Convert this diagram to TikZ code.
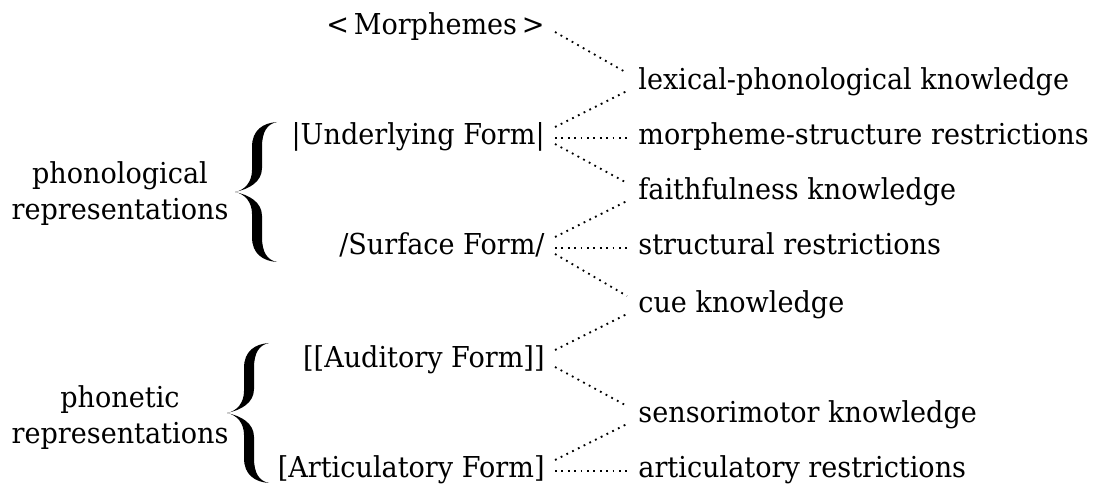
\documentclass[tikz,border=0pt]{standalone}
\usepackage{fontspec}
\setmainfont{DejaVu Serif}[FakeStretch=0.94]
\usepackage{tikz}
\usetikzlibrary{calc}

\begin{document}
\begin{tikzpicture}[x=0.5pt, y=-0.5pt,
  every node/.style={inner sep=0pt, font=\fontsize{14.4}{18}\selectfont},
  form/.style={anchor=base east},
  knowledge/.style={anchor=base west},
  group/.style={align=center, anchor=center},
  link/.style={line width=0.9pt, dash pattern=on 0.9pt off 2.3pt},
  curly/.pic={
    \foreach \s in {1,-1} {
      \fill[yscale=\s] (42,-70) .. controls (28,-69) and (17,-62) .. (17,-45)
        -- (17,-22) .. controls (17,-10) and (10,-2) .. (0,0)
        .. controls (14,-3) and (27,-10) .. (27,-24)
        -- (27,-45) .. controls (27,-60) and (32,-68) .. (42,-70) -- cycle;
    }
  }]
  \useasboundingbox (0,0) rectangle (1094,486);

  % representations
  \node[form] (morph) at (545,35) {<\,Morphemes\,>};
  \node[form] (uf) at (545,145) {|Underlying Form|};
  \node[form] (sf) at (545,255) {/Surface Form/};
  \node[form] (af) at (545,368) {[[Auditory Form]]};
  \node[form] (artf) at (545,478) {[Articulatory Form]};

  % knowledge and restrictions
  \node[knowledge] (lex) at (638,90) {lexical-phonological knowledge};
  \node[knowledge] (msr) at (638,145) {morpheme-structure restrictions};
  \node[knowledge] (faith) at (638,200) {faithfulness knowledge};
  \node[knowledge] (struct) at (638,255) {structural restrictions};
  \node[knowledge] (cue) at (638,313) {cue knowledge};
  \node[knowledge] (sensor) at (638,423) {sensorimotor knowledge};
  \node[knowledge] (artr) at (638,478) {articulatory restrictions};

  % groups
  \node[group] (phon) at (120,194) {phonological\\representations};
  \node[group] (phonet) at (120,418) {phonetic\\representations};
  \pic at (235,192) {curly};
  \pic at (227,413) {curly};

  % connections
  \draw[link] ($(morph.base east)+(10,-3)$) -- ($(lex.base west)+(-11,-17)$);
  \draw[link] ($(uf.base east)+(10,-18)$) -- ($(lex.base west)+(-11,1)$);
  \draw[link] ($(uf.base east)+(10,-7)$) -- ($(msr.base west)+(-11,-7)$);
  \draw[link] ($(uf.base east)+(10,-1)$) -- ($(faith.base west)+(-11,-17)$);
  \draw[link] ($(sf.base east)+(10,-18)$) -- ($(faith.base west)+(-11,1)$);
  \draw[link] ($(sf.base east)+(10,-7)$) -- ($(struct.base west)+(-11,-7)$);
  \draw[link] ($(sf.base east)+(10,-1)$) -- ($(cue.base west)+(-11,-17)$);
  \draw[link] ($(af.base east)+(10,-18)$) -- ($(cue.base west)+(-11,1)$);
  \draw[link] ($(af.base east)+(10,-1)$) -- ($(sensor.base west)+(-11,-17)$);
  \draw[link] ($(artf.base east)+(10,-18)$) -- ($(sensor.base west)+(-11,1)$);
  \draw[link] ($(artf.base east)+(10,-7)$) -- ($(artr.base west)+(-11,-7)$);
\end{tikzpicture}
\end{document}
